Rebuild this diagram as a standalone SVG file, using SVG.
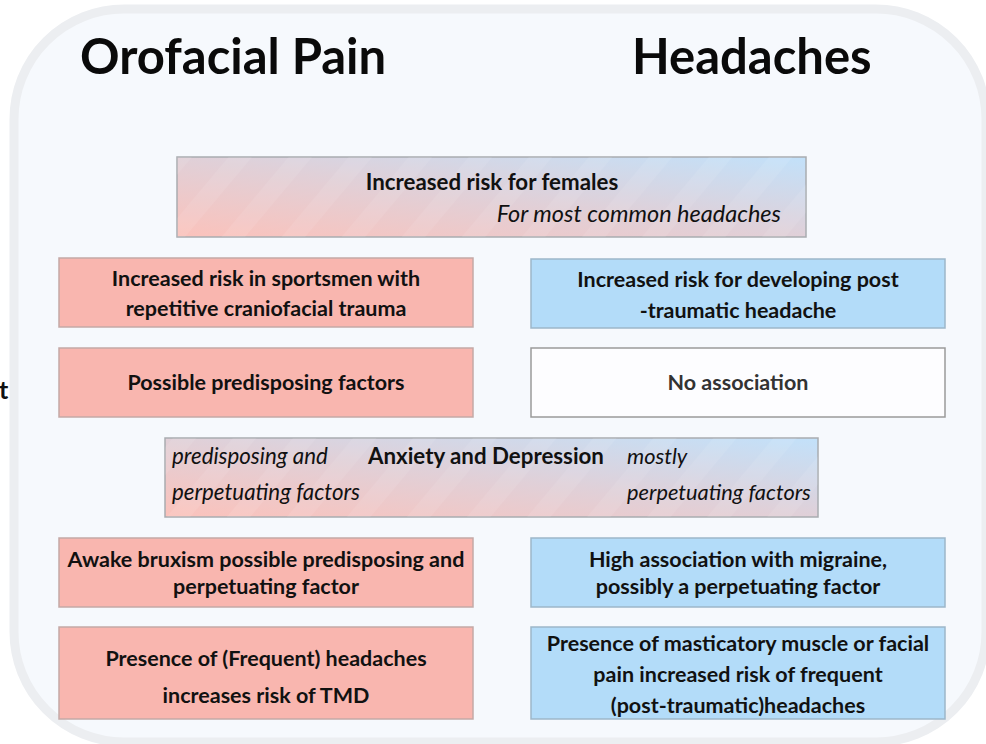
<svg xmlns="http://www.w3.org/2000/svg" width="986" height="744" viewBox="0 0 986 744">
  <defs>
    <linearGradient id="mix" x1="0" y1="1" x2="1" y2="0" gradientUnits="objectBoundingBox">
      <stop offset="0" stop-color="#fbc2bb"/>
      <stop offset="0.5" stop-color="#e0d0d8"/>
      <stop offset="1" stop-color="#c2e1fa"/>
    </linearGradient>
    <pattern id="bands" width="46" height="46" patternUnits="userSpaceOnUse" patternTransform="rotate(40)">
      <rect x="0" y="0" width="18" height="46" fill="#ffffff" opacity="0.08"/>
    </pattern>
  </defs>
  <style>
    .panel { fill: #f6f9fd; stroke: #eceef1; stroke-width: 9; }
    .title { font-family: Lato, "Open Sans", "Liberation Sans", sans-serif; font-weight: 700; font-size: 49px; fill: #0a0a0a; }
    .t { font-family: Lato, "Open Sans", "Liberation Sans", sans-serif; font-weight: 700; font-size: 21.5px; fill: #111111; }
    .big { font-size: 22.3px; }
    .i { font-family: Lato, "Open Sans", "Liberation Sans", sans-serif; font-style: italic; font-size: 22.3px; fill: #111111; }
    .c { text-anchor: middle; }
    .pink { fill: #f9b6af; stroke: #c4a9a6; stroke-width: 1.5; }
    .blue { fill: #b3dcf9; stroke: #9db7c9; stroke-width: 1.5; }
    .white { fill: #fdfdff; stroke: #9a9a9a; stroke-width: 1.5; }
    .grad { fill: url(#mix); stroke: #a9acb0; stroke-width: 1.5; }
    .gray { fill: #333333; }
  </style>

  <!-- background panel -->
  <rect class="panel" x="14" y="9" width="972" height="733" rx="110" ry="110"/>

  <!-- cut-off letter at the left margin -->
  <text class="t" x="-1" y="399" style="font-size:25px">t</text>

  <!-- column headings -->
  <text class="title" x="80" y="74">Orofacial Pain</text>
  <text class="title" x="632" y="74">Headaches</text>

  <g id="females">
    <rect class="grad" x="177" y="157" width="629" height="80"/>
    <rect x="177" y="157" width="629" height="80" fill="url(#bands)"/>
    <text class="t big c" x="492" y="190">Increased risk for females</text>
    <text class="i" x="781" y="222" text-anchor="end" style="font-size:23.5px">For most common headaches</text>
  </g>

  <g id="sportsmen">
    <rect class="pink" x="59" y="258" width="414" height="69"/>
    <text class="t c" x="266" y="286">Increased risk in sportsmen with</text>
    <text class="t c" x="266" y="316">repetitive craniofacial trauma</text>
  </g>

  <g id="post-traumatic">
    <rect class="blue" x="531" y="259" width="414" height="69"/>
    <text class="t c" x="738" y="287">Increased risk for developing post</text>
    <text class="t c" x="738" y="318">-traumatic headache</text>
  </g>

  <g id="predisposing">
    <rect class="pink" x="59" y="348" width="414" height="69"/>
    <text class="t c" x="266" y="390">Possible predisposing factors</text>
  </g>

  <g id="no-association">
    <rect class="white" x="531" y="348" width="414" height="69"/>
    <text class="t c gray" x="738" y="390">No association</text>
  </g>

  <g id="anxiety">
    <rect class="grad" x="165" y="438" width="653" height="79"/>
    <rect x="165" y="438" width="653" height="79" fill="url(#bands)"/>
    <text class="i" x="172" y="464">predisposing and</text>
    <text class="i" x="172" y="500">perpetuating factors</text>
    <text class="t big" x="368" y="464">Anxiety and Depression</text>
    <text class="i" x="627" y="464" style="font-size:21.8px">mostly</text>
    <text class="i" x="627" y="500" style="font-size:21.8px">perpetuating factors</text>
  </g>

  <g id="bruxism">
    <rect class="pink" x="59" y="538" width="414" height="69"/>
    <text class="t c" x="266" y="567">Awake bruxism possible predisposing and</text>
    <text class="t c" x="266" y="594">perpetuating factor</text>
  </g>

  <g id="migraine">
    <rect class="blue" x="531" y="538" width="414" height="69"/>
    <text class="t c" x="738" y="567">High association with migraine,</text>
    <text class="t c" x="738" y="594">possibly a perpetuating factor</text>
  </g>

  <g id="headaches-tmd">
    <rect class="pink" x="59" y="627" width="414" height="92"/>
    <text class="t c" x="266" y="666">Presence of (Frequent) headaches</text>
    <text class="t c" x="266" y="703">increases risk of TMD</text>
  </g>

  <g id="facial-pain">
    <rect class="blue" x="531" y="627" width="414" height="92"/>
    <text class="t c" x="738" y="651">Presence of masticatory muscle or facial</text>
    <text class="t c" x="738" y="682">pain increased risk of frequent</text>
    <text class="t c" x="738" y="713">(post-traumatic)headaches</text>
  </g>

  <g id="connectors"></g>
</svg>
